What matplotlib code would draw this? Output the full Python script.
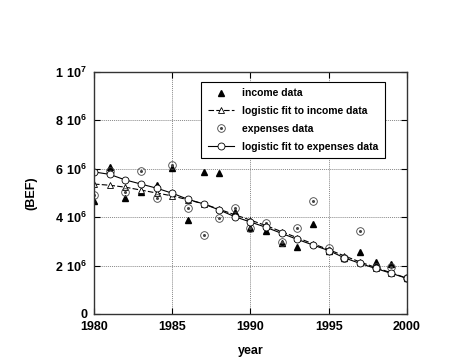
import matplotlib
matplotlib.use('Agg')
import matplotlib.pyplot as plt
from matplotlib.legend_handler import HandlerTuple

plt.rcParams['font.family'] = ['Liberation Sans', 'DejaVu Sans']
plt.rcParams['font.weight'] = 'bold'
plt.rcParams['mathtext.fontset'] = 'custom'
plt.rcParams['mathtext.rm'] = 'Liberation Sans:bold'
plt.rcParams['mathtext.bf'] = 'Liberation Sans:bold'

# data
years = list(range(1980, 2001))
income_data = [4.68e6, 6.09e6, 4.81e6, 5.05e6, 5.34e6, 6.02e6, 3.87e6, 5.88e6, 5.84e6, 4.23e6,
               3.54e6, 3.44e6, 2.95e6, 2.76e6, 3.72e6, 2.62e6, 2.30e6, 2.55e6, 2.16e6, 2.07e6, 1.48e6]
income_fit = [5.37e6, 5.32e6, 5.24e6, 5.12e6, 5.00e6, 4.88e6, 4.72e6, 4.55e6, 4.33e6, 4.10e6,
              3.88e6, 3.65e6, 3.40e6, 3.15e6, 2.90e6, 2.66e6, 2.40e6, 2.15e6, 1.92e6, 1.70e6, 1.48e6]
expenses_data = [4.92e6, 5.92e6, 5.03e6, 5.92e6, 4.78e6, 6.17e6, 4.39e6, 3.25e6, 3.95e6, 4.39e6,
                 3.56e6, 3.75e6, 2.98e6, 3.57e6, 4.68e6, 2.71e6, 2.30e6, 3.44e6, 1.96e6, 1.96e6, 1.48e6]
expenses_fit = [5.87e6, 5.77e6, 5.54e6, 5.37e6, 5.20e6, 4.99e6, 4.74e6, 4.55e6, 4.30e6, 4.02e6,
                3.80e6, 3.58e6, 3.33e6, 3.08e6, 2.85e6, 2.62e6, 2.32e6, 2.09e6, 1.88e6, 1.68e6, 1.47e6]

yticks = [0, 2e6, 4e6, 6e6, 8e6, 1e7]
ytick_labels = ['0', r'$2\ 10^{6}$', r'$4\ 10^{6}$', r'$6\ 10^{6}$', r'$8\ 10^{6}$', r'$1\ 10^{7}$']
xticks = [1980, 1985, 1990, 1995, 2000]

fig = plt.figure(figsize=(4.69, 3.63), dpi=100)
ax = fig.add_axes([0.2004, 0.135, 0.6674, 0.6667])

l_inc, = ax.plot(years, income_data, linestyle='none', marker='^', color='black', markersize=5)
l_incfit, = ax.plot(years, income_fit, linestyle=(0, (5, 2)), linewidth=0.8, color='black',
                    marker='^', markersize=5, markerfacecolor='white', markeredgewidth=0.6)
l_exp, = ax.plot(years, expenses_data, linestyle='none', marker='o', markersize=5.5,
                 markerfacecolor='none', markeredgecolor='#444444', markeredgewidth=0.6)
l_expdot, = ax.plot(years, expenses_data, linestyle='none', marker='o', markersize=1.2,
                    color='#444444')
l_expfit, = ax.plot(years, expenses_fit, linestyle='-', linewidth=0.8, color='black',
                    marker='o', markersize=5, markerfacecolor='white', markeredgewidth=0.6)

ax.set_xlim(1980, 2000)
ax.set_ylim(0, 1e7)
ax.set_xticks(xticks)
ax.set_yticks(yticks)
ax.set_yticklabels(ytick_labels)
ax.tick_params(direction='in', top=True, right=True, length=4, labelsize=9, pad=5)
for lab in ax.get_xticklabels():
    lab.set_fontweight('bold')
ax.grid(True, linestyle=(0, (1, 1)), color='#888888', linewidth=0.7)
for sp in ax.spines.values():
    sp.set_linewidth(1.0)
    sp.set_color('#333333')

ax.set_xlabel('year', fontsize=9, fontweight='bold', labelpad=9)
ax.set_ylabel('(BEF)', fontsize=9, fontweight='bold', labelpad=13)

leg = ax.legend([l_inc, l_incfit, (l_exp, l_expdot), l_expfit],
                ['income data', 'logistic fit to income data', 'expenses data',
                 'logistic fit to expenses data'],
                handler_map={tuple: HandlerTuple(ndivide=1, pad=0)},
                loc='upper right', bbox_to_anchor=(0.945, 0.98), fontsize=7.5,
                frameon=True, fancybox=False, framealpha=1, edgecolor='black',
                borderpad=0.6, labelspacing=0.75, handlelength=2.5)
leg.get_frame().set_linewidth(0.8)
for t in leg.get_texts():
    t.set_fontweight('bold')

fig.savefig('out.png', dpi=100)
